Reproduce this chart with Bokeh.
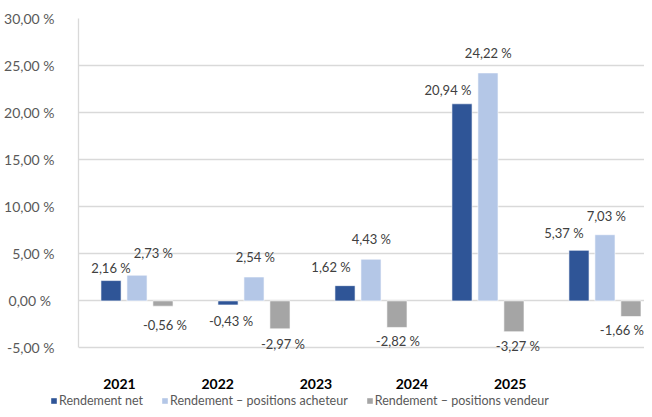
from bokeh.plotting import figure
from bokeh.models import (ColumnDataSource, FixedTicker, Range1d, Legend, LegendItem)
from bokeh.layouts import column
from bokeh.core.properties import value
from bokeh.embed import file_html
from bokeh.resources import INLINE
import numpy as np

# ---- data ----
years = ["2021", "2022", "2023", "2024", "2025"]
rendement_net = [2.16, -0.43, 1.62, 20.94, 5.37]
rendement_acheteur = [2.73, 2.54, 4.43, 24.22, 7.03]
rendement_vendeur = [-0.56, -2.97, -2.82, -3.27, -1.66]
y_ticks = [-5, 0, 5, 10, 15, 20, 25, 30]
y_tick_labels = ["-5,00 %", "0,00  %", "5,00 %", "10,00 %", "15,00 %",
                 "20,00 %", "25,00 %", "30,00 %"]
series_names = ["Rendement net", "Rendement \u2013 positions acheteur",
                "Rendement \u2013 positions vendeur"]

# ---- style ----
colors = ["#2F5597", "#B4C7E7", "#A5A5A5"]
bar_offsets = [-0.222, 0.0, 0.222]
bar_width = 0.172
label_sep = [" %", "  %", " %"]
# manual label nudges (screen px) as in the reference
label_dx = [[0, 3, -14, -14, -15],
            [18, 3, 2, 2, 3],
            [2, 3, 1, 4, -9]]
label_dy = [[-13, 16, -19, -14, -17],
            [-22, -20, -20, -20, -19],
            [19, 15, 14, 14, 13]]
year_label_pos = [0.35, 1.19, 2.03, 2.85, 3.69]
FONT = "Lato"


def no_frame_align(fig):
    if "frame_align" in fig.properties():
        fig.frame_align = False


p = figure(width=644, height=392, output_backend="svg", toolbar_location=None,
           x_range=Range1d(0, 4.838), y_range=Range1d(-5.8, 30))
p.min_border = 0
p.min_border_left = 78
p.min_border_right = 0
p.min_border_top = 18
p.min_border_bottom = 37
p.outline_line_color = None
p.background_fill_color = "white"
p.border_fill_color = "white"
no_frame_align(p)

idx = np.arange(len(years)) + 0.5
all_series = [rendement_net, rendement_acheteur, rendement_vendeur]
for k, vals in enumerate(all_series):
    vals = np.array(vals)
    src = ColumnDataSource(dict(
        x=idx + bar_offsets[k], top=vals,
        txt=[f"{v:.2f}".replace(".", ",") + label_sep[k] for v in vals],
        dx=label_dx[k], dy=label_dy[k]))
    p.vbar(x="x", top="top", bottom=0, width=bar_width, source=src,
           fill_color=colors[k], line_color="white", line_width=0.6)
    p.text(x="x", y="top", text="txt", x_offset="dx", y_offset="dy", source=src,
           text_align="center", text_baseline="middle",
           text_font=value(FONT), text_font_size="13px", text_color="#404040")

# y axis
p.yaxis.ticker = FixedTicker(ticks=y_ticks)
p.yaxis.major_label_overrides = {t: l for t, l in zip(y_ticks, y_tick_labels)}
p.yaxis.bounds = (-5, 30)
p.yaxis.axis_line_color = "#D9D9D9"
p.yaxis.axis_line_width = 1.3
p.yaxis.major_tick_line_color = None
p.yaxis.minor_tick_line_color = None
p.yaxis.major_label_standoff = 18
p.yaxis.major_label_text_font = FONT
p.yaxis.major_label_text_font_size = "14px"
p.yaxis.major_label_text_color = "#595959"

p.ygrid.ticker = FixedTicker(ticks=y_ticks)
p.ygrid.grid_line_color = "#D9D9D9"
p.ygrid.grid_line_width = 1.3
p.xgrid.grid_line_color = None

# x axis (year labels)
p.xaxis.ticker = FixedTicker(ticks=year_label_pos)
p.xaxis.major_label_overrides = {t: y for t, y in zip(year_label_pos, years)}
p.xaxis.axis_line_color = None
p.xaxis.major_tick_line_color = None
p.xaxis.minor_tick_line_color = None
p.xaxis.major_label_standoff = 17
p.xaxis.major_label_text_font = FONT
p.xaxis.major_label_text_font_size = "14px"
p.xaxis.major_label_text_font_style = "bold"
p.xaxis.major_label_text_color = "#000000"

# legend in its own strip below the chart
lg = figure(width=644, height=17, output_backend="svg", toolbar_location=None,
            x_range=Range1d(0, 1), y_range=Range1d(0, 1),
            x_axis_location=None, y_axis_location=None)
lg.min_border = 0
lg.outline_line_color = None
lg.xgrid.visible = False
lg.ygrid.visible = False
no_frame_align(lg)
leg_src = ColumnDataSource(dict(x=[-1.0], top=[0.0]))
leg_renderers = [lg.vbar(x="x", top="top", width=0.1, source=leg_src,
                         fill_color=c, line_color=None) for c in colors]
legend = Legend(items=[LegendItem(label=n, renderers=[r]) for n, r in zip(series_names, leg_renderers)],
                orientation="horizontal", location=(50, 1),
                glyph_width=7, glyph_height=7, label_standoff=2, spacing=18,
                padding=0, margin=0, label_height=14,
                label_text_font=FONT, label_text_font_size="12.5px",
                label_text_color="#595959",
                border_line_color=None, background_fill_alpha=0)
lg.add_layout(legend, "center")

layout = column(p, lg, spacing=0)
open("out.html", "w").write(file_html(layout, INLINE))
